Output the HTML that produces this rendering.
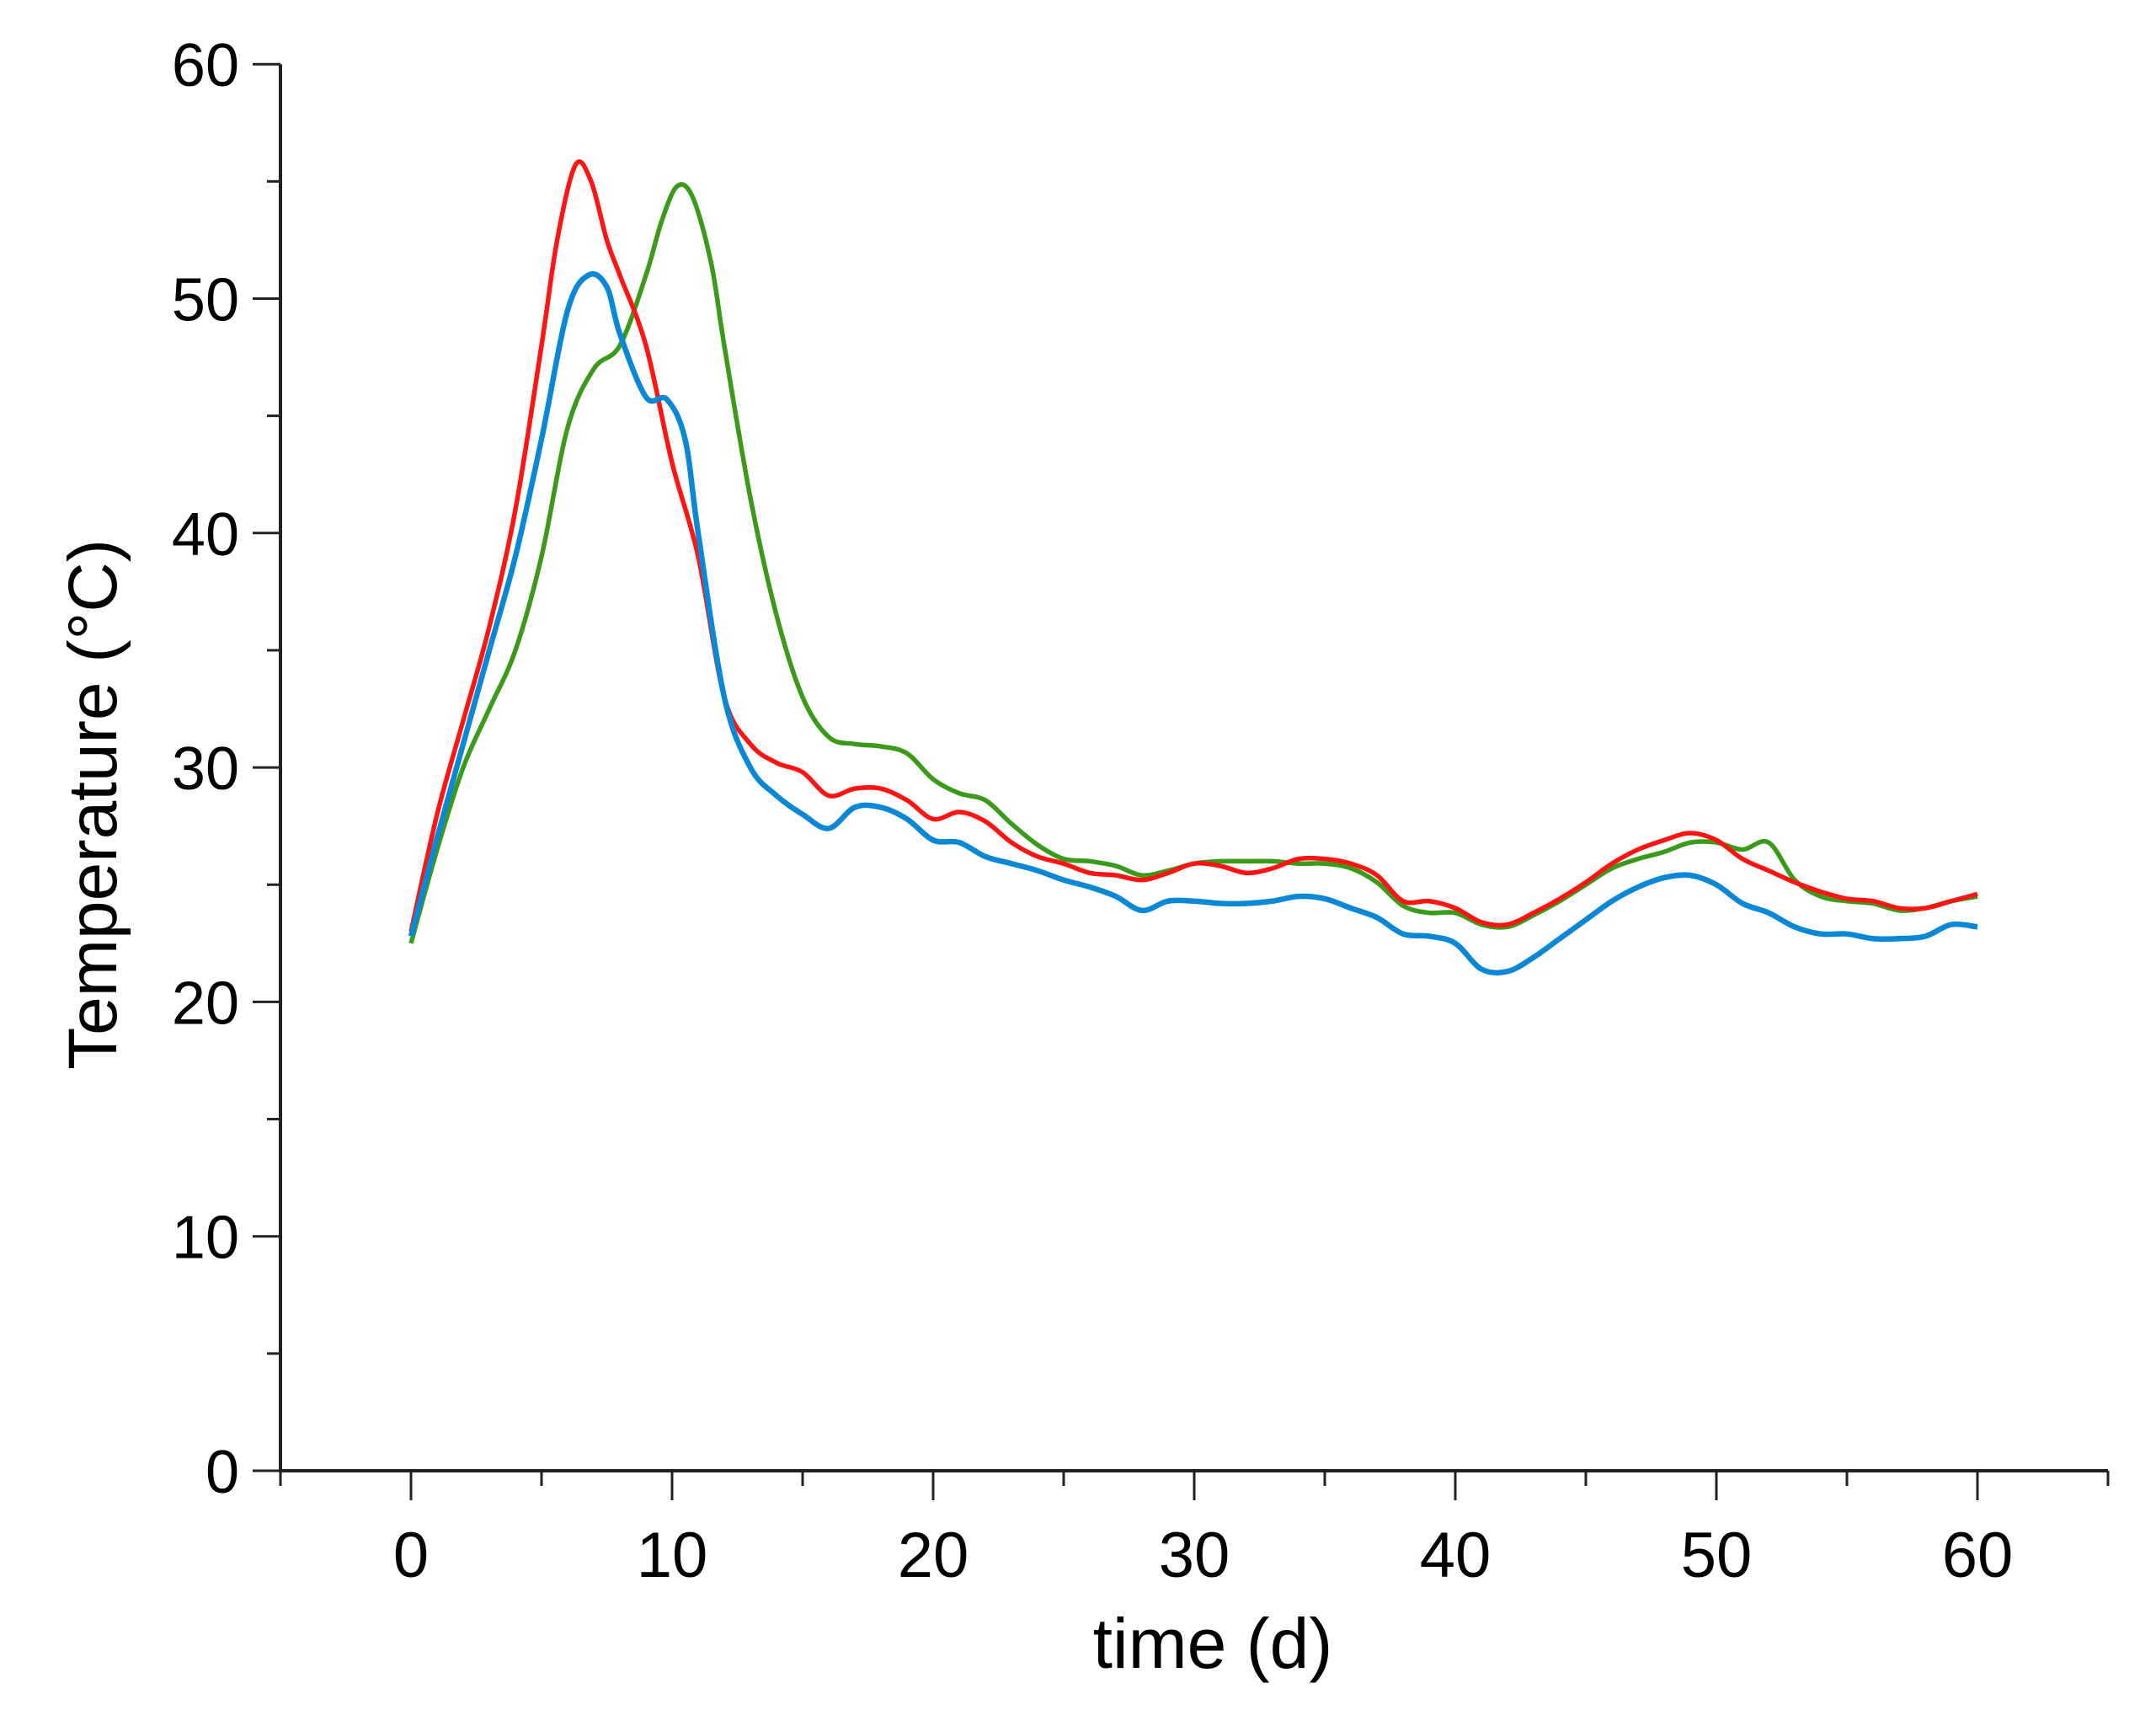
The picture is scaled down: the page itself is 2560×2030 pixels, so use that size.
<!DOCTYPE html>
<html><head><meta charset="utf-8"><style>
html,body{margin:0;padding:0;background:#fff;}
svg{display:block;}
text{font-family:"Liberation Sans",Arial,sans-serif;fill:#000;}
</style></head><body>
<svg id="chart" width="2560" height="2030" viewBox="0 0 2560 2030" xmlns="http://www.w3.org/2000/svg">
<g id="axes"></g>
<g id="series"></g>
<text x="1440" y="1980" font-size="84" text-anchor="middle">time (d)</text>
<text x="0" y="0" font-size="82" text-anchor="middle" transform="translate(138,955) rotate(-90)">Temperature (°C)</text>
</svg>
<script>
const xTicks = [0,10,20,30,40,50,60];
const yTicks = [0,10,20,30,40,50,60];
const redX = [0,1,2,3,4,5,5.6,6.3,6.9,7.5,8,9,10,11,12,13,14,15,16,17,18,19,20,21,22,23,24,25,26,27,28,29,30,31,32,33,34,35,36,37,38,39,40,41,42,43,44,45,46,47,48,49,50,51,52,53,54,55,56,57,58,59,60];
const redY = [23,28,32,36,41,48,52.5,55.7,55,52.5,51,48,43,39,33,31,30.2,29.8,28.8,29.1,29.1,28.6,27.8,28.1,27.7,26.8,26.2,25.9,25.5,25.4,25.2,25.5,25.9,25.8,25.5,25.7,26.1,26.1,25.9,25.4,24.3,24.3,24.0,23.4,23.3,23.8,24.4,25.1,25.9,26.5,26.9,27.2,26.9,26.1,25.6,25.1,24.7,24.4,24.3,24.0,24.0,24.3,24.6];
const blueX = [0,1,2,3,4,5,6,6.8,7.5,8,9,9.8,10.5,11,12,13,14,15,16,17,18,19,20,21,22,23,24,25,26,27,28,29,30,31,32,33,34,35,36,37,38,39,40,41,42,43,44,45,46,47,48,49,50,51,52,53,54,55,56,57,58,59,60];
const blueY = [22.8,27,31,35,39,44,49.5,51,50.5,48.5,45.8,45.7,44,40,33,30,28.8,28,27.4,28.3,28.3,27.8,26.9,26.8,26.2,25.9,25.6,25.2,24.9,24.5,23.9,24.3,24.3,24.2,24.2,24.3,24.5,24.4,24.0,23.6,22.9,22.8,22.5,21.4,21.3,21.9,22.7,23.5,24.3,24.9,25.3,25.4,25.0,24.2,23.8,23.2,22.9,22.9,22.7,22.7,22.8,23.3,23.2];
const greenX = [0,1,2,3,4,5,6,7,8,9,9.6,10.2,10.8,11.5,12,13,14,15,16,17,18,19,20,21,22,23,24,25,26,27,28,29,30,31,32,33,34,35,36,37,38,39,40,41,42,43,44,45,46,47,48,49,50,51,52,53,54,55,56,57,58,59,60];
const greenY = [22.5,26.5,30,32.5,35,39,44.5,47,48,51,53.3,54.8,54.3,51.5,48,41.5,36.5,33,31.3,31,30.9,30.6,29.5,28.9,28.6,27.6,26.7,26.1,26,25.8,25.4,25.6,25.9,26,26,26,25.9,25.9,25.7,25.1,24.1,23.8,23.8,23.3,23.2,23.7,24.3,25.0,25.7,26.1,26.4,26.8,26.8,26.5,26.8,25.2,24.5,24.3,24.2,23.9,24.0,24.3,24.5];

const NS = "http://www.w3.org/2000/svg";
function sx(v){ return 488 + v*31; }
function sy(v){ return 1746 - v*27.83; }
const axes = document.getElementById('axes');
function mk(tag, attrs, parent){
  const e = document.createElementNS(NS, tag);
  for (const k in attrs) e.setAttribute(k, attrs[k]);
  parent.appendChild(e); return e;
}
let l = mk('line',{x1:333,y1:sy(60),x2:333,y2:1746,stroke:'#222','stroke-width':4},axes);


l = mk('line',{x1:331,y1:1746,x2:sx(65),y2:1746,stroke:'#222','stroke-width':4},axes);


for (let v=-5; v<=65; v+=5){
  const major = v%10===0;
  const t = mk('line',{x1:sx(v),y1:1746,x2:sx(v),y2:major?1781:1764,stroke:'#222','stroke-width':3},axes);
  
  
}
xTicks.forEach(v=>{
  const t = mk('text',{x:sx(v),y:1872,'font-size':76,'text-anchor':'middle'},axes);
  t.textContent = v;
  
  
});
for (let v=0; v<=60; v+=5){
  const major = v%10===0;
  const t = mk('line',{x1:major?300:317,y1:sy(v),x2:333,y2:sy(v),stroke:'#222','stroke-width':3},axes);
  
  
}
yTicks.forEach(v=>{
  const t = mk('text',{x:284,y:sy(v)+26,'font-size':72,'text-anchor':'end'},axes);
  t.textContent = v;
  
  
});
function pathFor(xs, ys){
  const p = xs.map((x,i)=>[sx(x), sy(ys[i])]);
  let d = 'M'+p[0][0]+','+p[0][1];
  for (let i=0;i<p.length-1;i++){
    const p0=p[i-1]||p[i], p1=p[i], p2=p[i+1], p3=p[i+2]||p2;
    const c1x=p1[0]+(p2[0]-p0[0])/6, c1y=p1[1]+(p2[1]-p0[1])/6;
    const c2x=p2[0]-(p3[0]-p1[0])/6, c2y=p2[1]-(p3[1]-p1[1])/6;
    d += ' C'+c1x+','+c1y+' '+c2x+','+c2y+' '+p2[0]+','+p2[1];
  }
  return d;
}
const sg = document.getElementById('series');
let s = mk('path',{d:pathFor(greenX,greenY),fill:'none',stroke:'#3a9a1a','stroke-width':5.5,'stroke-linejoin':'round'},sg);


s = mk('path',{d:pathFor(redX,redY),fill:'none',stroke:'#ff1414','stroke-width':5.5,'stroke-linejoin':'round'},sg);


s = mk('path',{d:pathFor(blueX,blueY),fill:'none',stroke:'#0a88d6','stroke-width':6.5,'stroke-linejoin':'round'},sg);


</script>
</body></html>
